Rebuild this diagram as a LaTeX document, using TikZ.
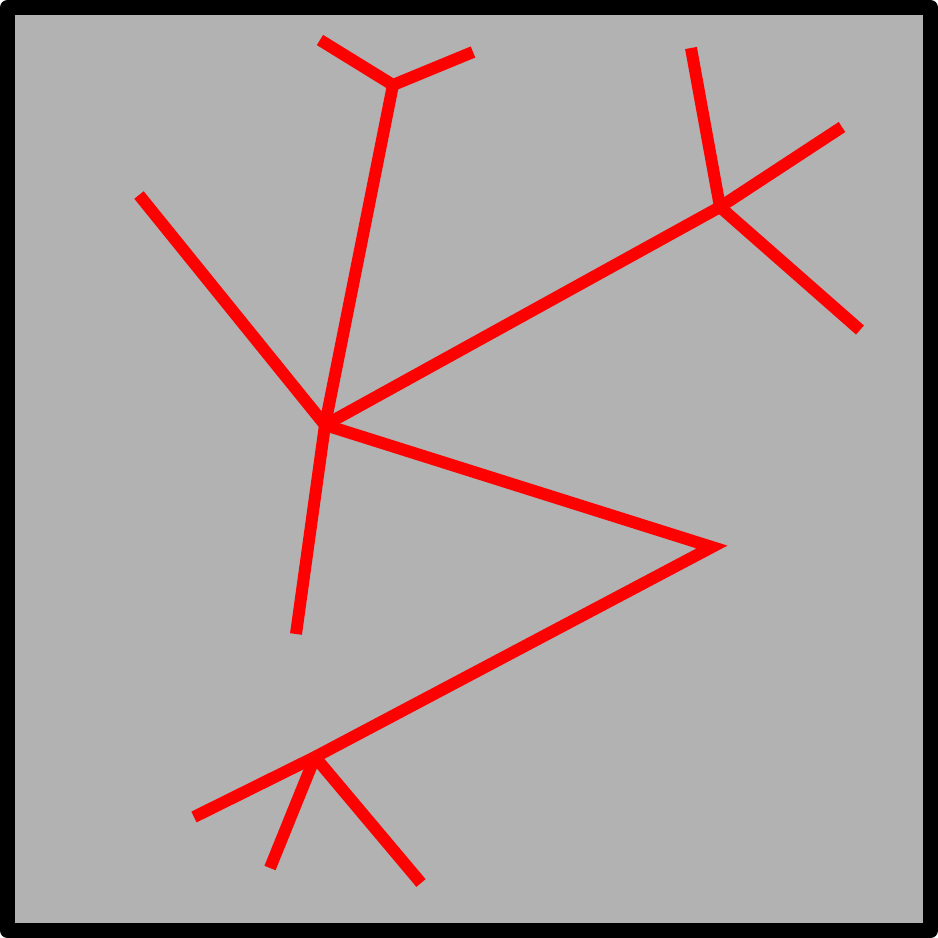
\documentclass[tikz,border=0pt]{standalone}
\usepackage{tikz}
\usetikzlibrary{calc}

\tikzset{
  branch/.style={draw=red, line width=0.12cm, line cap=butt},
}

\begin{document}
\begin{tikzpicture}[x=0.01cm, y=-0.01cm]
  % Frame
  \useasboundingbox (0,0) rectangle (938,938);
  \draw[fill=black!30, line width=0.15cm, line join=round] (7.5,7.5) rectangle (930.5,930.5);
  % Branch points
  \coordinate (hub) at (325,425);
  \coordinate (top) at (393,85);
  \coordinate (right) at (720,207);
  \coordinate (tip) at (712,547);
  \coordinate (low) at (315,757);
  % Free ends
  \coordinate (topL) at (320,40);
  \coordinate (topR) at (473,52);
  \coordinate (left) at (139,195);
  \coordinate (rightU) at (691,48);
  \coordinate (rightR) at (842,127);
  \coordinate (rightD) at (860,330);
  \coordinate (down) at (296,634);
  \coordinate (lowL) at (194,817);
  \coordinate (lowD) at (270,868);
  \coordinate (lowR) at (421,883);
  % Tree
  \draw[branch] (hub) -- (top);
  \draw[branch] (top) -- (topL);
  \draw[branch] (top) -- (topR);
  \draw[branch] (hub) -- (left);
  \draw[branch] (hub) -- (right);
  \draw[branch] (right) -- (rightU);
  \draw[branch] (right) -- (rightR);
  \draw[branch] (right) -- (rightD);
  \draw[branch] (hub) -- (down);
  \draw[branch] (hub) -- (tip) -- (low);
  \draw[branch] (low) -- (lowL);
  \draw[branch] (low) -- (lowD);
  \draw[branch] (low) -- (lowR);
\end{tikzpicture}
\end{document}
